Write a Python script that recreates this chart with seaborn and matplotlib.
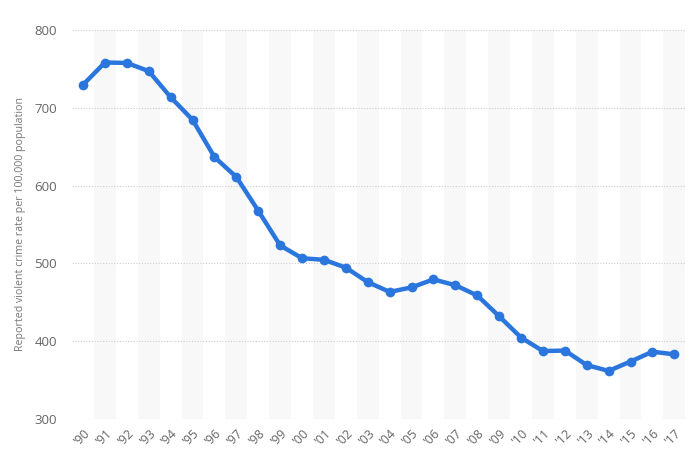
import pandas as pd
import matplotlib.pyplot as plt
import seaborn as sns

# Данные
years = list(range(1990, 2018))
rates = [729.6, 758.2, 757.7, 747.1, 713.6, 684.5, 636.6, 611.0, 567.6, 523.0,
         506.5, 504.5, 494.4, 475.8, 463.2, 469.0, 479.3, 471.8, 458.6, 431.9,
         404.5, 387.1, 387.8, 369.1, 361.6, 373.7, 386.3, 382.9]
tick_labels = ["'" + str(y)[2:] for y in years]

df = pd.DataFrame({'idx': range(len(years)), 'rate': rates})

sns.set_style('white')
plt.rcParams['font.family'] = ['Open Sans', 'DejaVu Sans']

fig = plt.figure(figsize=(7, 4.69), dpi=100)
ax = fig.add_axes([0.103, 0.107, 0.876, 0.829])

# Светлые полосы на нечётных годах
for i in df['idx']:
    if i % 2 == 1:
        ax.axvspan(i - 0.5, i + 0.5, color='#f8f8f8', zorder=0, lw=0)

sns.lineplot(data=df, x='idx', y='rate', ax=ax, color='#2a76dd', linewidth=3.2,
             marker='o', markersize=7, markeredgewidth=0, zorder=3)

ax.set_xlim(-0.5, len(years) - 0.5)
ax.set_ylim(300, 800)
ax.set_yticks([300, 400, 500, 600, 700, 800])
ax.set_xticks(df['idx'])
ax.set_xticklabels(tick_labels, rotation=45, ha='right', rotation_mode='anchor')
ax.tick_params(axis='x', labelsize=9, colors='#666666', length=0, pad=6)
ax.tick_params(axis='y', labelsize=9.5, colors='#666666', length=0, pad=11)
ax.yaxis.grid(True, linestyle=(0, (1, 1.5)), color='#cccccc', linewidth=0.8)
ax.xaxis.grid(False)
for s in ax.spines.values():
    s.set_visible(False)
ax.set_xlabel('')
ax.set_ylabel('Reported violent crime rate per 100,000 population', fontsize=7.7,
              color='#777777', labelpad=6)

fig.savefig('out.png', dpi=100)
